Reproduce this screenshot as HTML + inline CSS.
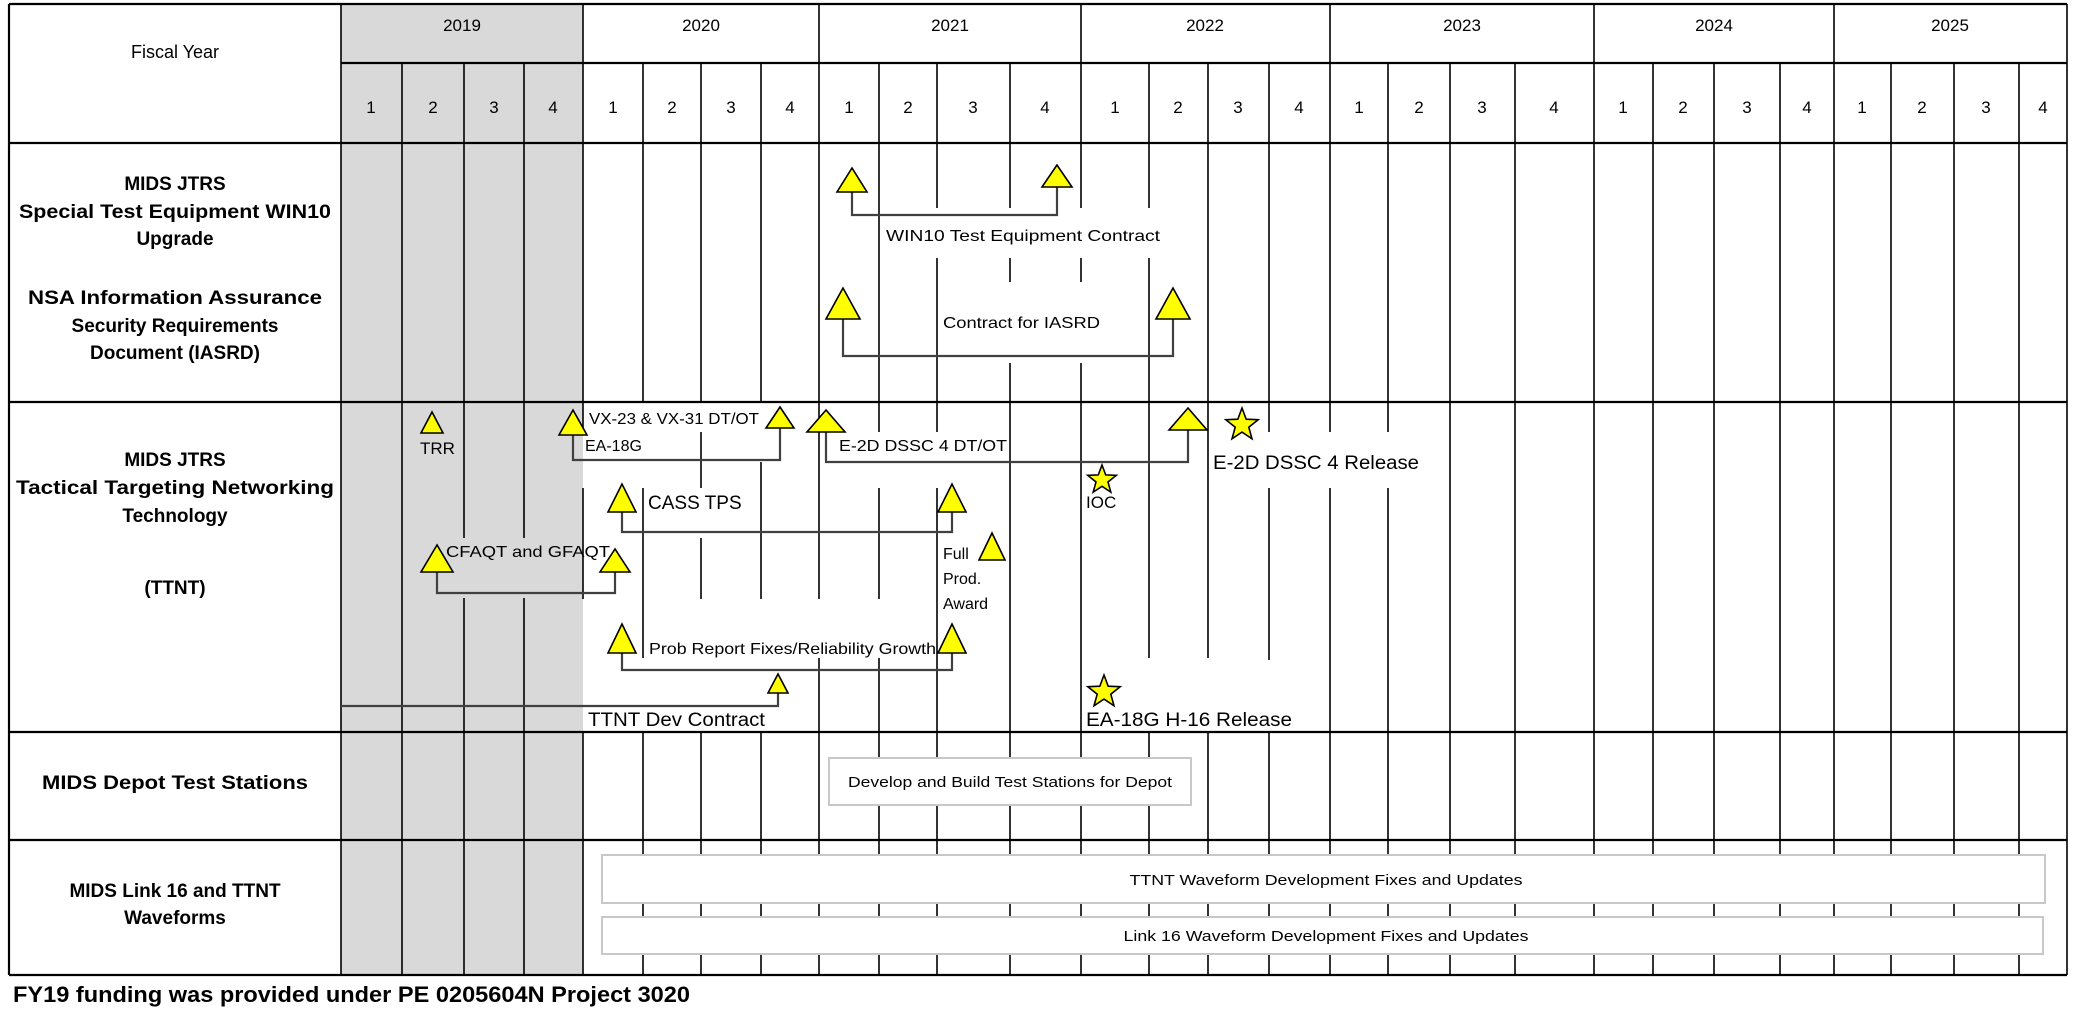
<!DOCTYPE html>
<html><head><meta charset="utf-8"><style>
html,body{margin:0;padding:0;background:#fff;}
svg{display:block;}
text{font-family:"Liberation Sans",Arial,sans-serif;fill:#000;}
.b{font-weight:bold;}
</style></head><body>
<svg width="2080" height="1009" viewBox="0 0 2080 1009" xmlns="http://www.w3.org/2000/svg">
<defs>
<polygon id="st" points="0,-1 0.247,-0.34 0.951,-0.309 0.399,0.13 0.588,0.809 0,0.42 -0.588,0.809 -0.399,0.13 -0.951,-0.309 -0.247,-0.34" fill="#ffff00" stroke="#000" stroke-width="1.6" vector-effect="non-scaling-stroke"/>
</defs>
<rect x="341" y="4" width="242" height="971" fill="#d9d9d9"/>

<!-- quarter / year vertical lines -->
<g stroke="#000" stroke-width="1.6">
<!-- year boundaries full -->
<line x1="341" y1="4" x2="341" y2="975"/>
<line x1="583" y1="4" x2="583" y2="402"/>
<line x1="583" y1="402" x2="583" y2="432"/><line x1="583" y1="488" x2="583" y2="599"/><line x1="583" y1="732" x2="583" y2="975"/>
<line x1="819" y1="4" x2="819" y2="599"/><line x1="819" y1="658" x2="819" y2="975"/>
<line x1="1081" y1="4" x2="1081" y2="208"/><line x1="1081" y1="258" x2="1081" y2="282"/><line x1="1081" y1="363" x2="1081" y2="975"/>
<line x1="1330" y1="4" x2="1330" y2="432"/><line x1="1330" y1="488" x2="1330" y2="975"/>
<line x1="1594" y1="4" x2="1594" y2="975"/>
<line x1="1834" y1="4" x2="1834" y2="975"/>
<line x1="2067" y1="4" x2="2067" y2="975"/>
<!-- gray quarters -->
<line x1="402" y1="63" x2="402" y2="975"/>
<line x1="464" y1="63" x2="464" y2="538"/><line x1="464" y1="598" x2="464" y2="975"/>
<line x1="524" y1="63" x2="524" y2="538"/><line x1="524" y1="598" x2="524" y2="975"/>
<!-- 2020 -->
<line x1="643" y1="63" x2="643" y2="402"/><line x1="643" y1="488" x2="643" y2="658"/><line x1="643" y1="732" x2="643" y2="975"/>
<line x1="701" y1="63" x2="701" y2="402"/><line x1="701" y1="432" x2="701" y2="488"/><line x1="701" y1="538" x2="701" y2="599"/><line x1="701" y1="732" x2="701" y2="975"/>
<line x1="761" y1="63" x2="761" y2="402"/><line x1="761" y1="462" x2="761" y2="599"/><line x1="761" y1="732" x2="761" y2="975"/>
<!-- 2021 -->
<line x1="879" y1="63" x2="879" y2="432"/><line x1="879" y1="488" x2="879" y2="599"/><line x1="879" y1="658" x2="879" y2="975"/>
<line x1="937" y1="63" x2="937" y2="208"/><line x1="937" y1="258" x2="937" y2="432"/><line x1="937" y1="488" x2="937" y2="975"/>
<line x1="1010" y1="63" x2="1010" y2="208"/><line x1="1010" y1="258" x2="1010" y2="282"/><line x1="1010" y1="363" x2="1010" y2="975"/>
<!-- 2022 -->
<line x1="1149" y1="63" x2="1149" y2="208"/><line x1="1149" y1="258" x2="1149" y2="658"/><line x1="1149" y1="732" x2="1149" y2="975"/>
<line x1="1208" y1="63" x2="1208" y2="658"/><line x1="1208" y1="732" x2="1208" y2="975"/>
<line x1="1269" y1="63" x2="1269" y2="432"/><line x1="1269" y1="488" x2="1269" y2="660"/><line x1="1269" y1="732" x2="1269" y2="975"/>
<!-- 2023+ -->
<line x1="1388" y1="63" x2="1388" y2="432"/><line x1="1388" y1="488" x2="1388" y2="975"/>
<line x1="1450" y1="63" x2="1450" y2="975"/>
<line x1="1515" y1="63" x2="1515" y2="975"/>
<line x1="1653" y1="63" x2="1653" y2="975"/>
<line x1="1714" y1="63" x2="1714" y2="975"/>
<line x1="1780" y1="63" x2="1780" y2="975"/>
<line x1="1891" y1="63" x2="1891" y2="975"/>
<line x1="1954" y1="63" x2="1954" y2="975"/>
<line x1="2019" y1="63" x2="2019" y2="975"/>
</g>
<!-- horizontal lines -->
<g stroke="#000" stroke-width="2.2">
<line x1="9" y1="4" x2="2067" y2="4"/>
<line x1="341" y1="63" x2="2067" y2="63"/>
<line x1="9" y1="143" x2="2067" y2="143"/>
<line x1="9" y1="402" x2="2067" y2="402"/>
<line x1="9" y1="732" x2="2067" y2="732"/>
<line x1="9" y1="840" x2="2067" y2="840"/>
<line x1="9" y1="975" x2="2067" y2="975"/>
<line x1="9" y1="4" x2="9" y2="975"/>
</g>

<!-- header text -->
<g font-size="17" text-anchor="middle">
<text x="175" y="58" font-size="18">Fiscal Year</text>
<text x="462" y="31">2019</text><text x="701" y="31">2020</text><text x="950" y="31">2021</text>
<text x="1205" y="31">2022</text><text x="1462" y="31">2023</text><text x="1714" y="31">2024</text><text x="1950" y="31">2025</text>
<text x="371" y="113">1</text><text x="433" y="113">2</text><text x="494" y="113">3</text><text x="553" y="113">4</text>
<text x="613" y="113">1</text><text x="672" y="113">2</text><text x="731" y="113">3</text><text x="790" y="113">4</text>
<text x="849" y="113">1</text><text x="908" y="113">2</text><text x="973" y="113">3</text><text x="1045" y="113">4</text>
<text x="1115" y="113">1</text><text x="1178" y="113">2</text><text x="1238" y="113">3</text><text x="1299" y="113">4</text>
<text x="1359" y="113">1</text><text x="1419" y="113">2</text><text x="1482" y="113">3</text><text x="1554" y="113">4</text>
<text x="1623" y="113">1</text><text x="1683" y="113">2</text><text x="1747" y="113">3</text><text x="1807" y="113">4</text>
<text x="1862" y="113">1</text><text x="1922" y="113">2</text><text x="1986" y="113">3</text><text x="2043" y="113">4</text>
</g>

<!-- row labels -->
<g class="b" font-size="19" text-anchor="middle" font-weight="bold">
<text x="175" y="190">MIDS JTRS</text>
<text x="175" y="218" textLength="312" lengthAdjust="spacingAndGlyphs">Special Test Equipment WIN10</text>
<text x="175" y="245">Upgrade</text>
<text x="175" y="304" textLength="294" lengthAdjust="spacingAndGlyphs">NSA Information Assurance</text>
<text x="175" y="332">Security Requirements</text>
<text x="175" y="359">Document (IASRD)</text>
<text x="175" y="466">MIDS JTRS</text>
<text x="175" y="494" textLength="318" lengthAdjust="spacingAndGlyphs">Tactical Targeting Networking</text>
<text x="175" y="522">Technology</text>
<text x="175" y="594">(TTNT)</text>
<text x="175" y="789" textLength="266" lengthAdjust="spacingAndGlyphs">MIDS Depot Test Stations</text>
<text x="175" y="897">MIDS Link 16 and TTNT</text>
<text x="175" y="924">Waveforms</text>
</g>

<!-- brackets -->
<g fill="none" stroke="#404040" stroke-width="2.2">
<polyline points="852,192 852,215 1057,215 1057,187"/>
<polyline points="843,319 843,356 1173,356 1173,319"/>
<polyline points="573,435 573,460 780,460 780,428"/>
<polyline points="826,432 826,462 1188,462 1188,430"/>
<polyline points="622,512 622,532 952,532 952,512"/>
<polyline points="437,572 437,593 615,593 615,572"/>
<polyline points="622,653 622,670 952,670 952,653"/>
<polyline points="341,706 778,706 778,693"/>
</g>

<!-- triangles -->
<g fill="#ffff00" stroke="#000" stroke-width="1.6" stroke-linejoin="miter">
<polygon points="852,168 837,192 867,192"/>
<polygon points="1057,165 1042,187 1072,187"/>
<polygon points="843,288 826,319 860,319"/>
<polygon points="1173,288 1156,319 1190,319"/>
<polygon points="432,412 421,433 443,433"/>
<polygon points="573,410 559,435 587,435"/>
<polygon points="780,407 766,428 794,428"/>
<polygon points="826,410 807,432 845,432"/>
<polygon points="1188,408 1169,430 1207,430"/>
<polygon points="622,484 608,512 636,512"/>
<polygon points="952,484 938,512 966,512"/>
<polygon points="992,533 979,560 1005,560"/>
<polygon points="437,545 421,572 453,572"/>
<polygon points="615,549 600,572 630,572"/>
<polygon points="622,624 608,653 636,653"/>
<polygon points="952,624 938,653 966,653"/>
<polygon points="778,674 768,693 788,693"/>
</g>
<use href="#st" transform="translate(1242,425) scale(17)"/>
<use href="#st" transform="translate(1102,480) scale(15)"/>
<use href="#st" transform="translate(1104,692) scale(17)"/>

<!-- chart labels -->
<g font-size="16">
<text x="886" y="241" textLength="274" lengthAdjust="spacingAndGlyphs">WIN10 Test Equipment Contract</text>
<text x="943" y="328" textLength="157" lengthAdjust="spacingAndGlyphs">Contract for IASRD</text>
<text x="420" y="454" font-size="17">TRR</text>
<text x="589" y="424" textLength="170" lengthAdjust="spacingAndGlyphs">VX-23 &amp; VX-31 DT/OT</text>
<text x="585" y="451">EA-18G</text>
<text x="839" y="451" textLength="168" lengthAdjust="spacingAndGlyphs">E-2D DSSC 4 DT/OT</text>
<text x="1213" y="469" font-size="19" textLength="206" lengthAdjust="spacingAndGlyphs">E-2D DSSC 4 Release</text>
<text x="1086" y="508" font-size="17">IOC</text>
<text x="648" y="509" font-size="19">CASS TPS</text>
<text x="943" y="559">Full</text>
<text x="943" y="584">Prod.</text>
<text x="943" y="609">Award</text>
<text x="446" y="557" textLength="164" lengthAdjust="spacingAndGlyphs">CFAQT and GFAQT</text>
<text x="649" y="654" textLength="287" lengthAdjust="spacingAndGlyphs">Prob Report Fixes/Reliability Growth</text>
<text x="588" y="726" font-size="19" textLength="177" lengthAdjust="spacingAndGlyphs">TTNT Dev Contract</text>
<text x="1086" y="726" font-size="19" textLength="206" lengthAdjust="spacingAndGlyphs">EA-18G H-16 Release</text>
</g>

<!-- boxes -->
<g fill="#fff" stroke="#c8c8c8" stroke-width="2">
<rect x="829" y="758" width="362" height="47"/>
<rect x="602" y="855" width="1443" height="48"/>
<rect x="602" y="917" width="1441" height="37"/>
</g>
<g font-size="15" text-anchor="middle">
<text x="1010" y="787" textLength="324" lengthAdjust="spacingAndGlyphs">Develop and Build Test Stations for Depot</text>
<text x="1326" y="885" textLength="393" lengthAdjust="spacingAndGlyphs">TTNT Waveform  Development Fixes and Updates</text>
<text x="1326" y="941" textLength="405" lengthAdjust="spacingAndGlyphs">Link 16 Waveform  Development Fixes and Updates</text>
</g>

<text x="13" y="1002" font-size="22" font-weight="bold" textLength="677" lengthAdjust="spacingAndGlyphs">FY19 funding was provided under PE 0205604N Project 3020</text>
</svg>
</body></html>
